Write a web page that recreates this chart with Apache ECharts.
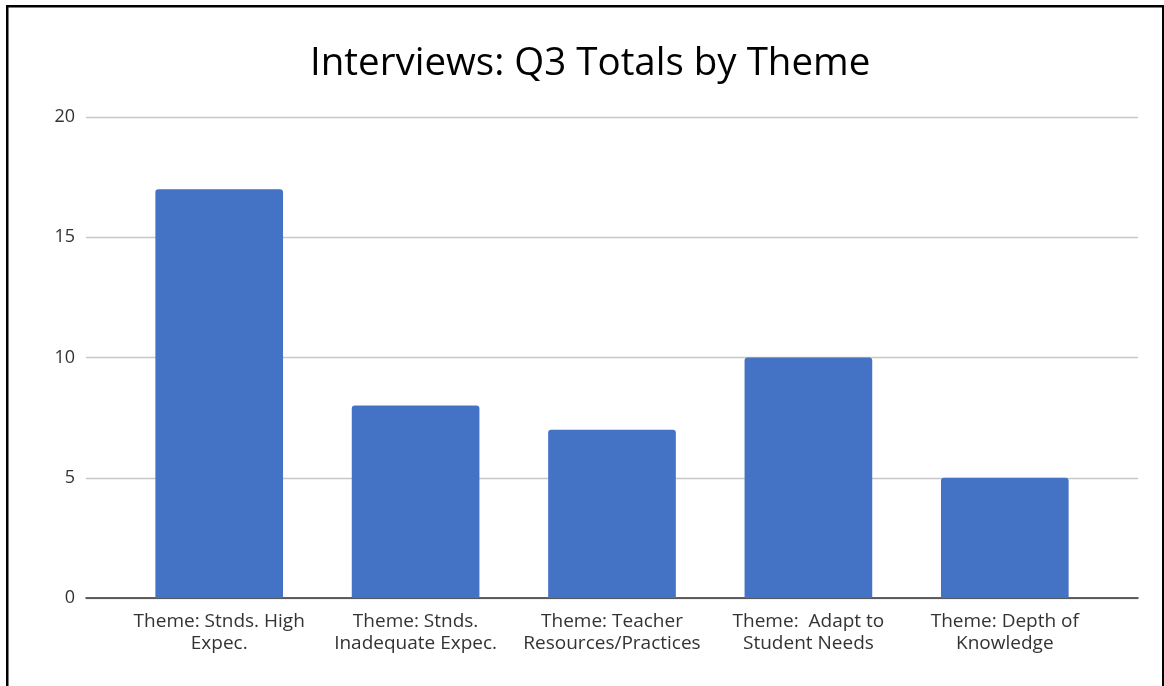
<!DOCTYPE html>
<html><head><meta charset="utf-8">
<script src="https://cdn.jsdelivr.net/npm/echarts@6/dist/echarts.min.js"></script>
<style>html,body{margin:0;padding:0;background:#fff}#c{width:1164px;height:686px}</style>
</head><body><div id="c"></div>
<script>
const categories = ["Theme: Stnds. High\nExpec.", "Theme: Stnds.\nInadequate Expec.", "Theme: Teacher\nResources/Practices", "Theme:  Adapt to\nStudent Needs", "Theme: Depth of\nKnowledge"];
const values = [17, 8, 7, 10, 5];
const yTicks = [0, 5, 10, 15, 20];
const FONT = "'Open Sans', 'Noto Sans', sans-serif";
const chart = echarts.init(document.getElementById('c'), null, {renderer: 'canvas'});
chart.setOption({
  animation: false,
  backgroundColor: '#fff',
  title: {text: 'Interviews: Q3 Totals by Theme', left: 305, top: 40,
    textStyle: {fontFamily: FONT, fontSize: 38.5, fontWeight: 'normal', color: '#000'}},
  grid: [
    {left: 86, right: 26, top: 117, bottom: 88, containLabel: false},
    {left: 121, right: 61, top: 117, bottom: 88, containLabel: false}
  ],
  xAxis: [
    {type: 'category', gridIndex: 0, data: [''], axisLine: {show: true, lineStyle: {color: '#333', width: 1.5}},
      axisTick: {show: false}, axisLabel: {show: false}, splitLine: {show: false}},
    {type: 'category', gridIndex: 1, data: categories, axisLine: {show: false}, axisTick: {show: false},
      axisLabel: {interval: 0, margin: 13, fontFamily: FONT, fontSize: 19, color: '#333', lineHeight: 22}}
  ],
  yAxis: [
    {type: 'value', gridIndex: 0, min: yTicks[0], max: yTicks[yTicks.length-1], interval: 5,
      axisLine: {show: false}, axisTick: {show: false},
      axisLabel: {margin: 11, fontFamily: FONT, fontSize: 18, color: '#333'},
      splitLine: {lineStyle: {color: '#c8c8c8', width: 1.4}}},
    {type: 'value', gridIndex: 1, min: yTicks[0], max: yTicks[yTicks.length-1], interval: 5,
      show: false, splitLine: {show: false}}
  ],
  series: [{type: 'bar', xAxisIndex: 1, yAxisIndex: 1, data: values, barWidth: '65%',
    itemStyle: {color: '#4472c4', borderRadius: [3, 3, 0, 0]}}],
  graphic: [
    {type: 'rect', shape: {x: 6, y: 5, width: 2.5, height: 700}, style: {fill: '#000'}, z: 100},
    {type: 'rect', shape: {x: 6, y: 5, width: 1160, height: 2.5}, style: {fill: '#000'}, z: 100},
    {type: 'rect', shape: {x: 1162, y: 5, width: 2, height: 700}, style: {fill: '#000'}, z: 100}
  ]
});
</script></body></html>
